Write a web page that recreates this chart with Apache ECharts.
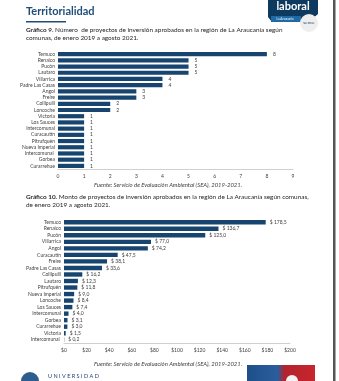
<!DOCTYPE html>
<html><head><meta charset="utf-8">
<script src="https://cdn.jsdelivr.net/npm/echarts@6/dist/echarts.min.js"></script>
<style>html,body{margin:0;padding:0;background:#fff}#c{width:339px;height:381px}</style>
</head><body><div id="c"></div>
<script>
const cats1 = ['Temuco','Renaico','Pucón','Lautaro','Villarrica','Padre Las Casas','Angol','Freire','Collipulli','Loncoche','Victoria','Los Sauces','Intercomunal','Curacautín','Pitrufquén','Nueva Imperial','Intercomunal ','Gorbea','Curarrehue'];
const vals1 = [8,5,5,5,4,4,3,3,2,2,1,1,1,1,1,1,1,1,1];
const ticks1 = [0,1,2,3,4,5,6,7,8,9];
const cats2 = ['Temuco','Renaico','Pucón','Villarrica','Angol','Curacautín','Freire','Padre Las Casas','Collipulli','Lautaro','Pitrufquén','Nueva Imperial','Loncoche','Los Sauces','Intercomunal','Gorbea','Curarrehue','Victoria','Intercomunal '];
const vals2 = [178.5,136.7,125.0,77.0,74.2,47.5,38.1,33.6,16.2,12.3,11.8,9.0,8.4,7.4,4.0,3.1,3.0,1.5,0.2];
const ticks2 = [0,20,40,60,80,100,120,140,160,180,200];

const navy = '#17456f';
const txt = '#404040';
const F = 'Lato, "Open Sans", sans-serif';
const chart = echarts.init(document.getElementById('c'), null, {renderer:'canvas'});
const catAxis = (data, gi) => ({type:'category', gridIndex:gi, data:data, inverse:true,
  axisLine:{show:false}, axisTick:{show:false},
  axisLabel:{interval:0, fontSize:5, color:txt, fontFamily:F, margin:3}});
chart.setOption({
  animation:false,
  grid:[
    {left:58, right:46, top:51, height:118},
    {left:64, right:49, top:219, height:124}
  ],
  xAxis:[
    {type:'value', gridIndex:0, min:ticks1[0], max:ticks1[ticks1.length-1], interval:1,
     splitLine:{show:false}, axisLine:{show:true, lineStyle:{color:'#d0d0d0'}}, axisTick:{show:false},
     axisLabel:{fontSize:5, color:txt, fontFamily:F, margin:5}},
    {type:'value', gridIndex:1, min:ticks2[0], max:ticks2[ticks2.length-1], interval:20,
     splitLine:{show:false}, axisLine:{show:true, lineStyle:{color:'#d0d0d0'}}, axisTick:{show:false},
     axisLabel:{fontSize:5, color:txt, fontFamily:F, margin:5, formatter:v=>'$'+v}}
  ],
  yAxis:[catAxis(cats1,0), catAxis(cats2,1)],
  series:[
    {type:'bar', xAxisIndex:0, yAxisIndex:0, data:vals1, barWidth:4.2,
     itemStyle:{color:navy}, label:{show:true, position:'right', distance:6, fontSize:5, color:txt, fontFamily:F}},
    {type:'bar', xAxisIndex:1, yAxisIndex:1, data:vals2, barWidth:4.4,
     itemStyle:{color:navy}, label:{show:true, position:'right', distance:4, fontSize:5, color:txt, fontFamily:F,
       formatter:p=>'$ '+p.value.toFixed(1).replace('.',',')}}
  ],
  graphic:[
    {type:'text', left:26, top:6, style:{text:'Territorialidad', font:'bold 11px '+F, fill:'#1f4e79'}},
    {type:'rect', shape:{x:26, y:21, width:40, height:1.5}, style:{fill:'#1f4e79'}},
    {type:'text', left:26, top:26, style:{rich:{b:{font:'bold 6.4px '+F, fill:'#262626'}, n:{font:'6.4px '+F, fill:'#262626'}},
      text:'{b|Gráfico 9.}{n| Número  de proyectos de inversión aprobados en la región de La Araucanía según}\n{n|comunas, de enero 2019 a agosto 2021.}', lineHeight:8}},
    {type:'text', x:168, y:182, style:{text:'Fuente: Servicio de Evaluación Ambiental (SEA), 2019-2021.', font:'italic 5.9px '+F, fill:txt, align:'center'}},
    {type:'text', left:26, top:193, style:{rich:{b:{font:'bold 6.4px '+F, fill:'#262626'}, n:{font:'6.4px '+F, fill:'#262626'}},
      text:'{b|Gráfico 10.}{n| Monto de proyectos de inversión aprobados en la región de La Araucanía según comunas,}\n{n|de enero 2019 a agosto 2021.}', lineHeight:8}},
    {type:'text', x:168, y:361, style:{text:'Fuente: Servicio de Evaluación Ambiental (SEA), 2019-2021.', font:'italic 5.9px '+F, fill:txt, align:'center'}},
    // logo top-right
    {type:'polygon', shape:{points:[[268,0],[318,0],[318,14],[312,19],[298,21],[272,22],[268,17]]}, style:{fill:'#0e3a60'}},
    {type:'rect', shape:{x:271, y:16, width:30, height:6}, style:{fill:'#1f6aa5'}},
    {type:'text', x:293, y:1, style:{text:'laboral', font:'bold 11px '+F, fill:'#fff', align:'center'}},
    {type:'text', x:285, y:17.5, style:{text:'La Araucanía', font:'3px '+F, fill:'#fff', align:'center'}},
    {type:'circle', shape:{cx:309, cy:23, r:9}, style:{fill:'#eeeeee'}},
    {type:'text', x:309, y:20, style:{text:'sence', font:'4.5px '+F, fill:'#1f4e79', align:'center'}},
    // right page border
    {type:'rect', shape:{x:333, y:0, width:2.5, height:381}, style:{fill:'#555'}},
    // bottom university
    {type:'circle', shape:{cx:30, cy:381, r:9}, style:{fill:'#2f5c8f'}},
    {type:'text', x:48, y:373, style:{text:'U N I V E R S I D A D', font:'5.5px '+F, fill:'#1f3d6e'}},
    // bottom-right image
    {type:'rect', shape:{x:247, y:365, width:68, height:16}, style:{fill:new echarts.graphic.LinearGradient(0,0,1,0,[{offset:0,color:'#1d4f8a'},{offset:0.45,color:'#2a5e9c'},{offset:0.55,color:'#b2242c'},{offset:1,color:'#c9252d'}])}},
    {type:'circle', shape:{cx:292, cy:381, r:6}, style:{fill:'#f3f3f3'}}
  ]
});
</script></body></html>
